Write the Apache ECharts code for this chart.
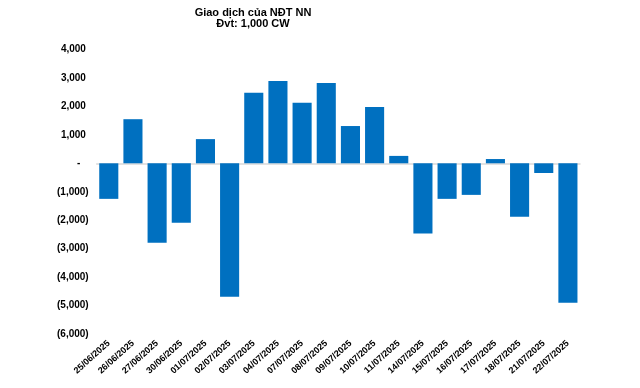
<!DOCTYPE html>
<html>
<head>
<meta charset="utf-8">
<script src="https://cdn.jsdelivr.net/npm/echarts@6/dist/echarts.min.js"></script>
<style>html,body{margin:0;padding:0;background:#fff;}#c{width:640px;height:388px;}</style>
</head>
<body>
<div id="c"></div>
<script>
var categories = ["25/06/2025","26/06/2025","27/06/2025","30/06/2025","01/07/2025","02/07/2025","03/07/2025","04/07/2025","07/07/2025","08/07/2025","09/07/2025","10/07/2025","11/07/2025","14/07/2025","15/07/2025","16/07/2025","17/07/2025","18/07/2025","21/07/2025","22/07/2025"];
var netValues = [-1250,1550,-2790,-2090,850,-4690,2480,2890,2130,2820,1310,1980,260,-2470,-1250,-1110,150,-1880,-340,-4900];
var titleLines = ["Giao dịch của NĐT NN","Đvt: 1,000 CW"];

var chart = echarts.init(document.getElementById('c'), null, {renderer:'canvas'});
function fmt(v){
  if (v === 0) return '-   ';
  var s = Math.abs(v).toLocaleString('en-US');
  return v < 0 ? '(' + s + ')' : s + ' ';
}
var font = 'Liberation Sans, Arial, sans-serif';
chart.setOption({
  animation:false,
  backgroundColor:'#ffffff',
  title:{
    text: titleLines.join('\n'),
    left: 248, top: 2, textAlign:'center',
    textStyle:{fontFamily:font, fontSize:11, fontWeight:'bold', color:'#000', lineHeight:11}
  },
  grid:{left:96.7, right:60, top:49.5, bottom:54, containLabel:false},
  xAxis:[{
    type:'category', data:categories, position:'bottom',
    axisLine:{show:false, onZero:false}, axisTick:{show:false},
    axisLabel:{interval:0, rotate:42, margin:8, fontFamily:font, fontSize:9, fontWeight:'bold', color:'#000'}
  },{
    type:'category', data:categories, position:'bottom',
    axisLine:{show:true, onZero:true, lineStyle:{color:'#d9d9d9', width:1.5}},
    axisTick:{show:false}, axisLabel:{show:false}
  }],
  yAxis:{
    type:'value', min:-6000, max:4000, interval:1000,
    axisLine:{show:false}, axisTick:{show:false}, splitLine:{show:false},
    axisLabel:{margin:8, formatter:fmt, fontFamily:font, fontSize:10, fontWeight:'bold', color:'#000'}
  },
  series:[{
    type:'bar', data:netValues, xAxisIndex:0,
    barCategoryGap:'21%',
    itemStyle:{color:'#0070c0'}
  }]
});
</script>
</body>
</html>
